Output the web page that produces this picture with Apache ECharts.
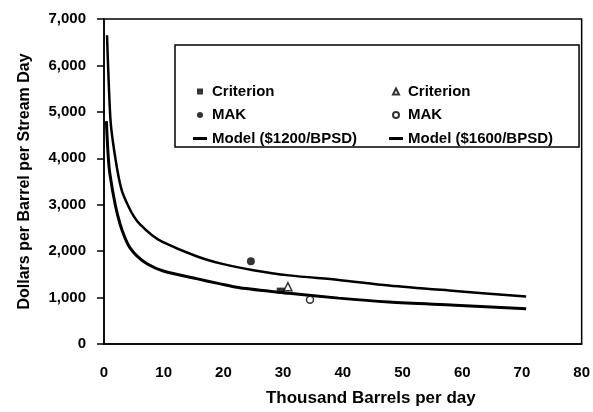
<!DOCTYPE html>
<html>
<head>
<meta charset="utf-8">
<script src="https://cdn.jsdelivr.net/npm/echarts@6/dist/echarts.min.js"></script>
<style>
  html, body { margin: 0; padding: 0; background: #fff; }
  #chart { width: 593px; height: 412px; }
</style>
</head>
<body>
<div id="chart"></div>
<script>
// curves (thousand bbl/day, $/BPSD)
var lowerX = [0.4, 0.7, 1, 1.9, 2.7, 3.5, 4.3, 5.5, 7.2, 9.8, 15.5, 19.3, 22.7, 31, 39.3, 47.7, 58.8, 70.7];
var lowerY = [4800, 4050, 3650, 2990, 2580, 2290, 2080, 1900, 1730, 1577, 1408, 1300, 1210, 1093, 988, 904, 834, 757];
var upperX = [0.5, 0.8, 1.1, 1.5, 2.3, 3, 4, 5, 6, 8, 9.8, 15.5, 20, 25, 31, 39.3, 47.7, 58.8, 70.7];
var upperY = [6650, 5600, 4800, 4350, 3700, 3300, 2990, 2750, 2580, 2350, 2200, 1890, 1720, 1590, 1478, 1380, 1260, 1142, 1023];

// individual estimates
var criterionFilled = [[29.6, 1150]];
var criterionOpen = [[30.8, 1234]];
var makFilled = [[24.6, 1780]];
var makOpen = [[34.5, 952]];

// legend labels (second column names carry a trailing space so they stay distinct)
var leftNames = ["Criterion", "MAK", "Model ($1200/BPSD)"];
var rightNames = ["Criterion ", "MAK ", "Model ($1600/BPSD)"];

function pairs(xs, ys) {
  var out = [];
  for (var i = 0; i < xs.length; i++) out.push([xs[i], ys[i]]);
  return out;
}

var font = "Liberation Sans";
var SQUARE = "path://M0,0L10,0L10,10L0,10Z";
var TRIANGLE = "path://M5,0L10,10L0,10Z";
var DASH = "path://M0,0L14,0L14,3L0,3Z";

var chart = echarts.init(document.getElementById("chart"));

var legendText = {
  fontFamily: font,
  fontSize: 15,
  fontWeight: "bold",
  color: "#000",
  lineHeight: 17
};

var option = {
  backgroundColor: "#fff",
  animation: false,
  grid: {
    left: 104,
    right: 9,
    top: 19,
    bottom: 60,
    show: true,
    borderColor: "#000",
    borderWidth: 1.5,
    backgroundColor: "transparent"
  },
  legend: [
    {
      data: [
        { name: leftNames[0], icon: SQUARE },
        { name: leftNames[1], icon: "circle" },
        { name: leftNames[2], icon: DASH }
      ],
      orient: "vertical",
      left: 175,
      top: 45,
      padding: [38, 222, 0, 18],
      itemGap: 6.5,
      itemWidth: 14,
      itemHeight: 6,
      symbolKeepAspect: true,
      borderColor: "#000",
      borderWidth: 1.5,
      backgroundColor: "#fff",
      textStyle: legendText,
      formatter: function (n) { return n.trim(); }
    },
    {
      data: [
        { name: rightNames[0], icon: TRIANGLE },
        { name: rightNames[1], icon: "circle" },
        { name: rightNames[2], icon: DASH }
      ],
      orient: "vertical",
      left: 389,
      top: 83,
      padding: 0,
      itemGap: 6.5,
      itemWidth: 14,
      itemHeight: 6,
      symbolKeepAspect: true,
      z: 10,
      textStyle: legendText,
      formatter: function (n) { return n.trim(); }
    }
  ],
  xAxis: {
    type: "value",
    min: 0,
    max: 80,
    interval: 10,
    name: "Thousand Barrels per day",
    nameLocation: "middle",
    nameGap: 46,
    nameTextStyle: {
      fontFamily: font,
      fontSize: 17,
      fontWeight: "bold",
      color: "#000",
      padding: [0, 0, 0, 56]
    },
    axisLine: { lineStyle: { color: "#000", width: 1.5 } },
    axisTick: { show: false },
    splitLine: { show: false },
    axisLabel: {
      margin: 21,
      fontFamily: font,
      fontSize: 15,
      fontWeight: "bold",
      color: "#000"
    }
  },
  yAxis: {
    type: "value",
    min: 0,
    max: 7000,
    interval: 1000,
    name: "Dollars per Barrel per Stream Day",
    nameLocation: "middle",
    nameGap: 71,
    nameTextStyle: {
      fontFamily: font,
      fontSize: 16,
      fontWeight: "bold",
      color: "#000"
    },
    axisLine: { show: true, lineStyle: { color: "#000", width: 1.5 } },
    axisTick: { show: true, length: 7, lineStyle: { color: "#000", width: 1.5 } },
    splitLine: { show: false },
    axisLabel: {
      margin: 18,
      fontFamily: font,
      fontSize: 15,
      fontWeight: "bold",
      color: "#000",
      formatter: function (v) { return v.toLocaleString("en-US"); }
    }
  },
  series: [
    {
      name: "Criterion",
      type: "scatter",
      data: criterionFilled,
      symbol: "rect",
      symbolSize: [8, 6],
      itemStyle: { color: "#000" }
    },
    {
      name: "MAK",
      type: "scatter",
      data: makFilled,
      symbol: "circle",
      symbolSize: 8,
      itemStyle: { color: "#000" }
    },
    {
      name: "Model ($1200/BPSD)",
      type: "line",
      data: pairs(lowerX, lowerY),
      smooth: 0.3,
      symbol: "none",
      lineStyle: { color: "#000", width: 3 },
      itemStyle: { color: "#000" }
    },
    {
      name: "Criterion ",
      type: "scatter",
      data: criterionOpen,
      symbol: "triangle",
      symbolSize: 8,
      z: 5,
      itemStyle: { color: "#fff", borderColor: "#000", borderWidth: 1.5 }
    },
    {
      name: "MAK ",
      type: "scatter",
      data: makOpen,
      symbol: "circle",
      symbolSize: 7,
      z: 5,
      itemStyle: { color: "#fff", borderColor: "#000", borderWidth: 1.5 }
    },
    {
      name: "Model ($1600/BPSD)",
      type: "line",
      data: pairs(upperX, upperY),
      smooth: 0.3,
      symbol: "none",
      lineStyle: { color: "#000", width: 2.5 },
      itemStyle: { color: "#000" }
    }
  ]
};

chart.setOption(option);
</script>
</body>
</html>
